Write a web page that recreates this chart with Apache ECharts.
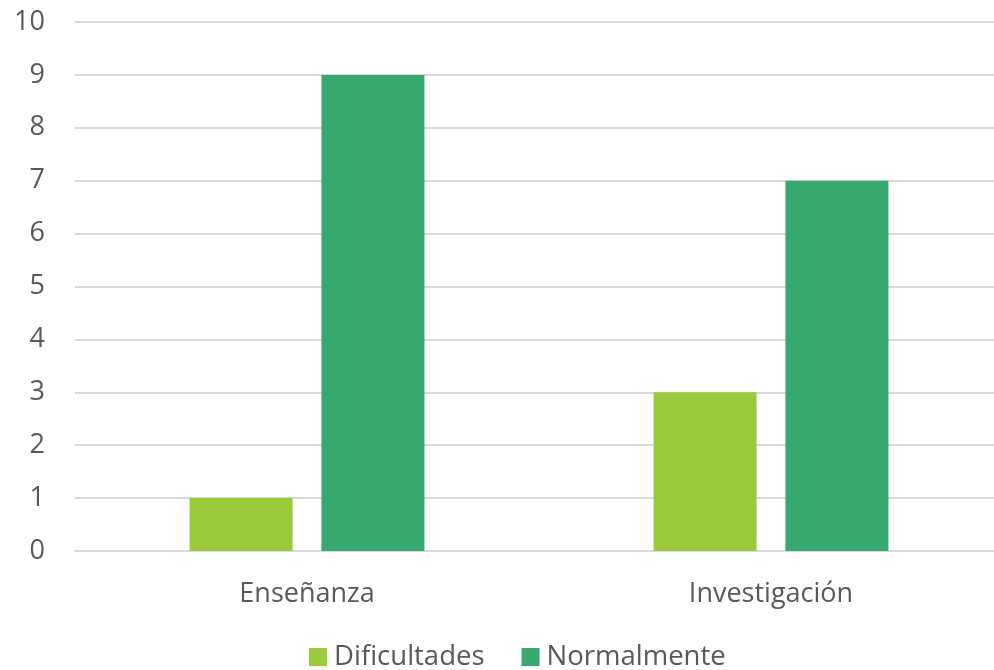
<!DOCTYPE html>
<html><head><meta charset="utf-8">
<script src="https://cdn.jsdelivr.net/npm/echarts@6/dist/echarts.min.js"></script>
<style>html,body{margin:0;padding:0;background:#fff}#c{width:994px;height:670px}</style>
</head><body><div id="c"></div>
<script>
const categories = ['Enseñanza', 'Investigación'];
const dificultades = [1, 3];
const normalmente = [9, 7];
const yTicks = {min: 0, max: 10, interval: 1};
const chart = echarts.init(document.getElementById('c'));
const font = '"Open Sans", "Liberation Sans", sans-serif';
chart.setOption({
  animation: false,
  grid: {left: 75, top: 22, width: 928, height: 529, outerBoundsMode: 'none', containLabel: false},
  legend: {
    top: 643, left: 309, padding: 0, itemWidth: 18, itemHeight: 18, itemGap: 37,
    icon: 'rect',
    textStyle: {fontFamily: font, fontSize: 27.5, color: '#595959', padding: [0, 0, 0, 2]},
    data: ['Dificultades', 'Normalmente']
  },
  xAxis: {
    type: 'category', data: categories,
    axisLine: {show: true, lineStyle: {color: '#d9d9d9', width: 2}},
    axisTick: {show: false},
    axisLabel: {fontFamily: font, fontSize: 27, color: '#595959', margin: 30}
  },
  yAxis: {
    type: 'value', min: yTicks.min, max: yTicks.max, interval: yTicks.interval,
    axisLine: {show: false}, axisTick: {show: false},
    splitLine: {lineStyle: {color: '#d9d9d9', width: 2}},
    axisLabel: {fontFamily: font, fontSize: 27, color: '#595959', margin: 30}
  },
  series: [
    {name: 'Dificultades', type: 'bar', data: dificultades, barWidth: 103, barGap: '28%',
     itemStyle: {color: '#9ACA3C'}},
    {name: 'Normalmente', type: 'bar', data: normalmente, barWidth: 103, barGap: '28%',
     itemStyle: {color: '#38A96E'}}
  ]
});
</script></body></html>
